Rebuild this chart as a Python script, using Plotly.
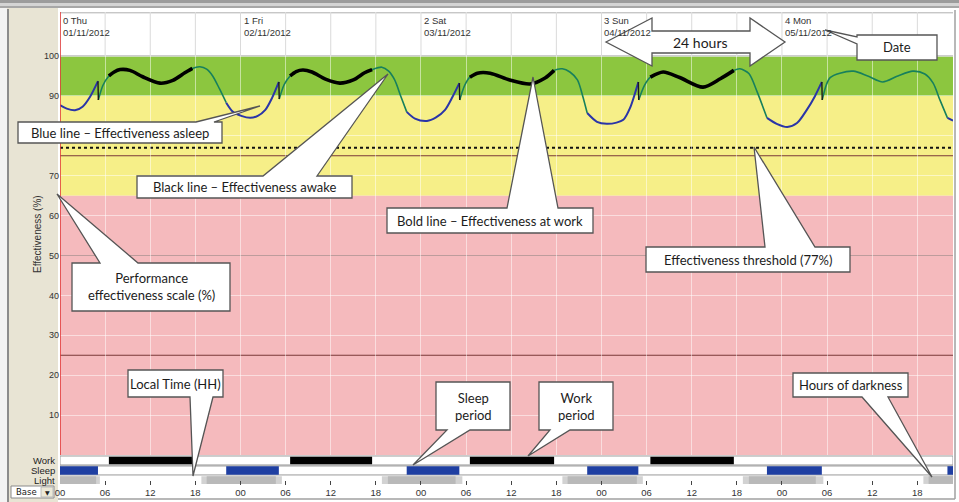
import plotly.graph_objects as go

# ---------------- data ----------------
hours = [
    0.0, 0.9, 2.0, 3.0, 4.0, 5.05,
    5.1, 5.7, 6.5, 7.2, 8.0, 9.3, 11.0, 13.3, 15.0, 16.6, 17.6, 18.6, 19.5, 20.3, 21.2, 22.1,
    23.0, 24.1, 25.3, 26.3, 27.3, 28.2, 29.1,
    29.15, 29.8, 30.6, 31.4, 32.3, 33.5, 35.3, 37.2, 39.0, 40.5, 41.5, 42.8, 43.7, 44.5, 45.3, 46.1,
    47.2, 48.8, 50.0, 51.2, 52.2, 53.1,
    53.15, 53.8, 54.5, 55.5, 57.2, 59.8, 62.5, 64.5, 65.7, 66.8, 67.8, 68.8, 69.5, 70.1,
    71.4, 72.7, 74.0, 74.9, 75.8, 76.9,
    76.95, 77.7, 78.5, 80.2, 82.4, 85.5, 87.8, 89.6, 90.4, 91.6, 92.7, 94.0,
    95.3, 96.7, 98.0, 99.3, 100.4, 101.3,
    101.35, 101.9, 102.4, 103.7, 105.5, 107.4, 109.4, 111.4, 113.4, 115.0, 116.1, 117.0, 118.0, 118.74,
]
eff = [
    87.7, 86.8, 86.4, 87.3, 89.8, 93.7,
    89.0, 92.6, 95.0, 96.0, 96.6, 96.4, 94.8, 93.2, 93.9, 95.8, 96.9, 97.3, 96.7, 95.0, 91.8, 88.3,
    86.0, 85.0, 84.5, 85.0, 86.5, 89.5, 93.5,
    89.2, 92.8, 95.0, 96.1, 96.5, 96.0, 94.2, 93.2, 94.0, 95.8, 96.6, 97.2, 96.2, 94.0, 90.0, 86.0,
    84.3, 83.7, 84.6, 86.5, 89.8, 93.2,
    89.0, 92.6, 94.7, 95.7, 95.7, 94.0, 93.0, 94.5, 96.4, 96.8, 96.0, 94.0, 90.0, 85.7,
    83.5, 83.0, 83.3, 84.0, 87.0, 93.5,
    89.0, 92.6, 94.7, 96.0, 94.6, 92.2, 94.3, 96.4, 96.8, 95.6, 91.0, 84.5,
    83.0, 82.2, 83.2, 86.5, 90.0, 93.5,
    89.0, 92.8, 94.6, 95.7, 96.2, 95.0, 93.5, 95.0, 96.2, 95.5, 93.2, 89.0, 84.5, 83.8,
]

sleep_start = [0.0, 22.1, 46.1, 70.1, 94.0, 118.0]
sleep_end = [5.05, 29.1, 53.1, 76.9, 101.3, 118.74]
work_start = [6.5, 30.6, 54.5, 78.5]
work_end = [17.6, 41.5, 65.7, 89.6]
twilight_start = [0.0, 18.8, 42.8, 66.8, 90.8, 114.8]
twilight_end = [5.3, 29.5, 53.5, 77.5, 101.5, 118.74]
dark_start = [0.0, 19.5, 43.6, 67.5, 91.6, 115.5]
dark_end = [4.8, 28.7, 52.6, 76.7, 100.5, 118.74]

day_hours = [0, 24, 48, 72, 96]
day_names = ["0 Thu", "1 Fri", "2 Sat", "3 Sun", "4 Mon"]
day_dates = ["01/11/2012", "02/11/2012", "03/11/2012", "04/11/2012", "05/11/2012"]

tick_hours = list(range(0, 115, 6))
tick_text = ["00", "06", "12", "18"] * 5
y_ticks = [10, 20, 30, 40, 50, 60, 70, 80, 90, 100]
# the "80" label is hidden behind a callout in the reference
y_tick_text = ["10", "20", "30", "40", "50", "60", "70", "", "90", "100"]

band_green = (90, 100)
band_yellow = (65, 90)
band_pink = (0, 65)
threshold = 77
ref_lines = [75, 50, 25]

wake_step = 0.05
X_RANGE = [0, 118.74]
Y_RANGE = [-7.52, 111.03]

# ---------------- geometry helpers ----------------
L, R, T, B = 60, 953, 12, 485
W, H = R - L, B - T


def px(x):
    return (x - L) / W


def py(y):
    return (B - y) / H


def seg(a, b):
    xs, ys = [], []
    for h, v in zip(hours, eff):
        if a - 1e-6 <= h <= b + 1e-6:
            xs.append(h)
            ys.append(v)
    return xs, ys


fig = go.Figure()

GREEN = "#17805c"
BLUE = "#2a35a8"

# awake (not at work)
for i in range(len(sleep_end) - 1):
    xs, ys = seg(sleep_end[i] + wake_step, sleep_start[i + 1])
    fig.add_trace(go.Scatter(x=xs, y=ys, mode="lines", line=dict(color=GREEN, width=1.6, shape="spline", smoothing=0.8),
                             hoverinfo="skip", showlegend=False))
# at work
for ws, we in zip(work_start, work_end):
    xs, ys = seg(ws, we)
    fig.add_trace(go.Scatter(x=xs, y=ys, mode="lines", line=dict(color="#000000", width=3.6, shape="spline", smoothing=0.8),
                             hoverinfo="skip", showlegend=False))
# asleep
for ss, se in zip(sleep_start, sleep_end):
    xs, ys = seg(ss, se)
    fig.add_trace(go.Scatter(x=xs, y=ys, mode="lines", line=dict(color=BLUE, width=2.0, shape="spline", smoothing=0.8),
                             hoverinfo="skip", showlegend=False))
# sleep inertia drop at wake
for i in range(len(sleep_end) - 1):
    xs, ys = seg(sleep_end[i], sleep_end[i] + wake_step)
    fig.add_trace(go.Scatter(x=xs, y=ys, mode="lines", line=dict(color="#1a1a1a", width=1.4),
                             hoverinfo="skip", showlegend=False))

shapes = []
# frame / window chrome
shapes.append(dict(type="rect", xref="paper", yref="paper", x0=px(0), x1=px(58), y0=py(8), y1=py(502),
                   fillcolor="#e8e4d4", line=dict(width=0), layer="below"))
shapes.append(dict(type="rect", xref="paper", yref="paper", x0=px(0), x1=px(7), y0=py(8), y1=py(502),
                   fillcolor="#f3f3f3", line=dict(width=0), layer="below"))
shapes.append(dict(type="line", xref="paper", yref="paper", x0=px(8), x1=px(8), y0=py(9), y1=py(502),
                   line=dict(color="#8c8c8c", width=2), layer="below"))
shapes.append(dict(type="rect", xref="paper", yref="paper", x0=px(0), x1=px(959), y0=py(0), y1=py(3),
                   fillcolor="#9c9c9c", line=dict(width=0), layer="below"))
shapes.append(dict(type="rect", xref="paper", yref="paper", x0=px(0), x1=px(959), y0=py(3), y1=py(6),
                   fillcolor="#d4d4d4", line=dict(width=0), layer="below"))
shapes.append(dict(type="line", xref="paper", yref="paper", x0=px(0), x1=px(959), y0=py(7), y1=py(7),
                   line=dict(color="#8a8a8a", width=1.5), layer="below"))
shapes.append(dict(type="line", xref="paper", yref="paper", x0=px(58), x1=px(955), y0=py(499), y1=py(499),
                   line=dict(color="#a0a0a0", width=1.5), layer="below"))
shapes.append(dict(type="line", xref="paper", yref="paper", x0=px(955), x1=px(955), y0=py(10), y1=py(499),
                   line=dict(color="#a0a0a0", width=1.5), layer="below"))

# effectiveness bands
for (y0, y1), col in [(band_green, "#8cc63f"), (band_yellow, "#f6ef88"), (band_pink, "#f5babd")]:
    shapes.append(dict(type="rect", xref="paper", yref="y", x0=0, x1=1, y0=y0, y1=y1,
                       fillcolor=col, line=dict(width=0), layer="below"))

# header grid lines
for h in tick_hours:
    shapes.append(dict(type="line", xref="x", yref="y", x0=h, x1=h, y0=100, y1=Y_RANGE[1],
                       line=dict(color="#dadada", width=1), layer="between"))
shapes.append(dict(type="line", xref="paper", yref="y", x0=0, x1=1, y0=100, y1=100,
                   line=dict(color="#9a9a9a", width=1), layer="between"))
shapes.append(dict(type="line", xref="paper", yref="y", x0=0, x1=1, y0=Y_RANGE[1] - 0.2, y1=Y_RANGE[1] - 0.2,
                   line=dict(color="#b0b0b0", width=1), layer="between"))

# reference lines
for v in ref_lines:
    shapes.append(dict(type="line", xref="paper", yref="y", x0=0, x1=1, y0=v, y1=v,
                       line=dict(color="#7a3838", width=1.1), layer="between"))
shapes.append(dict(type="line", xref="paper", yref="y", x0=0, x1=1, y0=threshold, y1=threshold,
                   line=dict(color="#111111", width=2, dash="dot"), layer="between"))

# bottom rows (work / sleep / light)
shapes.append(dict(type="rect", xref="paper", yref="y", x0=0, x1=1, y0=Y_RANGE[0], y1=0,
                   fillcolor="#ffffff", line=dict(width=0), layer="between"))
shapes.append(dict(type="rect", xref="x", yref="y", x0=0, x1=X_RANGE[1], y0=-2.5, y1=-0.25,
                   fillcolor="#ffffff", line=dict(color="#9a9a9a", width=1), layer="between"))
shapes.append(dict(type="rect", xref="x", yref="y", x0=0, x1=X_RANGE[1], y0=-5.0, y1=-2.75,
                   fillcolor="#ffffff", line=dict(color="#9a9a9a", width=1), layer="between"))
for ws, we in zip(work_start, work_end):
    shapes.append(dict(type="rect", xref="x", yref="y", x0=ws, x1=we, y0=-2.3, y1=-0.45,
                       fillcolor="#000000", line=dict(width=0), layer="between"))
for ss, se in zip(sleep_start, sleep_end):
    shapes.append(dict(type="rect", xref="x", yref="y", x0=ss, x1=se, y0=-4.95, y1=-2.8,
                       fillcolor="#1f3fa2", line=dict(width=0), layer="between"))
for ts, te in zip(twilight_start, twilight_end):
    shapes.append(dict(type="rect", xref="x", yref="y", x0=ts, x1=te, y0=-7.25, y1=-5.3,
                       fillcolor="#d2d2d2", line=dict(width=0), layer="between"))
for ds, de in zip(dark_start, dark_end):
    shapes.append(dict(type="rect", xref="x", yref="y", x0=ds, x1=de, y0=-7.25, y1=-5.3,
                       fillcolor="#b9b9b9", line=dict(width=0), layer="between"))

# current-time red marker
shapes.append(dict(type="line", xref="x", yref="y", x0=0, x1=0, y0=0, y1=Y_RANGE[1],
                   line=dict(color="#e23a3a", width=1.6), layer="above"))

# ---------------- callouts ----------------
callouts = [
    dict(text="Blue line – Effectiveness asleep", box=(18, 122, 222, 143), edge="top", base=(196, 214), tip=(260, 106)),
    dict(text="Black line – Effectiveness awake", box=(137, 176, 352, 198), edge="top", base=(263, 317), tip=(388, 74)),
    dict(text="Bold line – Effectiveness at work", box=(387, 208, 593, 233), edge="top", base=(507, 558), tip=(533, 77)),
    dict(text="Effectiveness threshold (77%)", box=(646, 247, 850, 272), edge="top", base=(765, 815), tip=(754, 147)),
    dict(text="Performance<br>effectiveness scale (%)", box=(72, 263, 230, 311), edge="top", base=(100, 138), tip=(57, 194)),
    dict(text="Local Time (HH)", box=(128, 370, 223, 397), edge="bottom", base=(190, 213), tip=(193, 476)),
    dict(text="Sleep<br>period", box=(436, 382, 510, 430), edge="bottom", base=(447, 470), tip=(413, 465)),
    dict(text="Work<br>period", box=(539, 382, 613, 430), edge="bottom", base=(550, 570), tip=(528, 456)),
    dict(text="Hours of darkness", box=(793, 373, 908, 397), edge="bottom", base=(862, 888), tip=(932, 477)),
    dict(text="Date", box=(857, 35, 937, 60), edge="left", base=(37, 44), tip=(825, 30)),
]


def callout_path(c):
    x0, y0, x1, y1 = c["box"]
    a, b = c["base"]
    tx, ty = c["tip"]
    if c["edge"] == "top":
        pts = [(x0, y0), (a, y0), (tx, ty), (b, y0), (x1, y0), (x1, y1), (x0, y1)]
    elif c["edge"] == "bottom":
        pts = [(x0, y0), (x1, y0), (x1, y1), (b, y1), (tx, ty), (a, y1), (x0, y1)]
    else:
        pts = [(x0, y0), (x1, y0), (x1, y1), (x0, y1), (x0, b), (tx, ty), (x0, a)]
    return "M " + " L ".join(f"{px(x):.5f},{py(y):.5f}" for x, y in pts) + " Z"


annotations = []
CFONT = dict(family="Lato, 'Open Sans', sans-serif", size=13, color="#1c1c1c")
for c in callouts:
    shapes.append(dict(type="path", xref="paper", yref="paper", path=callout_path(c),
                       fillcolor="#ffffff", line=dict(color="#555555", width=1.3), layer="above"))
    x0, y0, x1, y1 = c["box"]
    annotations.append(dict(xref="paper", yref="paper", x=px((x0 + x1) / 2), y=py((y0 + y1) / 2),
                            text=c["text"], showarrow=False, font=CFONT, xanchor="center", yanchor="middle"))

# 24 hours double arrow
arrow_pts = [(606, 42), (652, 18), (652, 31), (750, 31), (750, 18), (785, 42), (750, 66), (750, 53),
             (652, 53), (652, 66)]
shapes.append(dict(type="path", xref="paper", yref="paper",
                   path="M " + " L ".join(f"{px(x):.5f},{py(y):.5f}" for x, y in arrow_pts) + " Z",
                   fillcolor="#ffffff", line=dict(color="#555555", width=1.3), layer="above"))
annotations.append(dict(xref="paper", yref="paper", x=px(700), y=py(42), text="24 hours", showarrow=False,
                        xanchor="center", yanchor="middle",
                        font=dict(family="Lato, sans-serif", size=14, color="#1c1c1c")))

# Base dropdown
shapes.append(dict(type="rect", xref="paper", yref="paper", x0=px(11), x1=px(54), y0=py(486), y1=py(498),
                   fillcolor="#ffffff", line=dict(color="#8a8a8a", width=1), layer="above"))
shapes.append(dict(type="rect", xref="paper", yref="paper", x0=px(41), x1=px(53), y0=py(487), y1=py(497),
                   fillcolor="#ece9d8", line=dict(color="#b0b0b0", width=0.8), layer="above"))
annotations.append(dict(xref="paper", yref="paper", x=px(14), y=py(492), text="Base", showarrow=False,
                        xanchor="left", yanchor="middle", font=dict(family="DejaVu Sans", size=8.5, color="#222")))
annotations.append(dict(xref="paper", yref="paper", x=px(47), y=py(492), text="▼", showarrow=False,
                        xanchor="center", yanchor="middle", font=dict(family="DejaVu Sans", size=6, color="#222")))

# row labels
for lab, yy in [("Work", 460), ("Sleep", 470), ("Light", 480)]:
    annotations.append(dict(xref="paper", yref="paper", x=px(57), y=py(yy), text=lab, showarrow=False,
                            xanchor="right", yanchor="middle",
                            font=dict(family="Liberation Sans, Arial", size=9.5, color="#222")))

# axis title
annotations.append(dict(xref="paper", yref="paper", x=px(37), y=py(234), text="Effectiveness (%)", showarrow=False,
                        textangle=-90, xanchor="center", yanchor="middle",
                        font=dict(family="Liberation Sans, Arial", size=10, color="#333")))

# day labels
for h, n, d in zip(day_hours, day_names, day_dates):
    annotations.append(dict(xref="x", yref="paper", x=h, y=py(12.5), text=f"{n}<br>{d}", showarrow=False,
                            xanchor="left", yanchor="top", xshift=1, align="left",
                            font=dict(family="Liberation Sans, Arial", size=9.5, color="#333")))

fig.update_layout(
    width=959, height=502, autosize=False,
    margin=dict(l=L, r=959 - R, t=T, b=502 - B, pad=0, autoexpand=False),
    paper_bgcolor="#ffffff", plot_bgcolor="#ffffff",
    showlegend=False,
    shapes=shapes, annotations=annotations,
    xaxis=dict(range=X_RANGE, tickvals=tick_hours, ticktext=tick_text, showgrid=True, automargin=False,
               gridcolor="rgba(255,255,255,0.5)", gridwidth=1, zeroline=False, showline=False,
               ticks="inside", ticklen=4, tickcolor="#444", tickfont=dict(family="Liberation Sans, Arial", size=9.5, color="#333"),
               fixedrange=True),
    yaxis=dict(range=Y_RANGE, tickvals=y_ticks, ticktext=y_tick_text, showgrid=True,
               gridcolor="rgba(255,255,255,0.5)", gridwidth=1,
               automargin=False, zeroline=False, showline=False, ticks="",
               tickfont=dict(family="Liberation Sans, Arial", size=9, color="#333"),
               fixedrange=True),
)

fig.write_html("out.html", config={"displayModeBar": False},
               post_script="document.body.style.margin='0';document.body.style.overflow='hidden';")
